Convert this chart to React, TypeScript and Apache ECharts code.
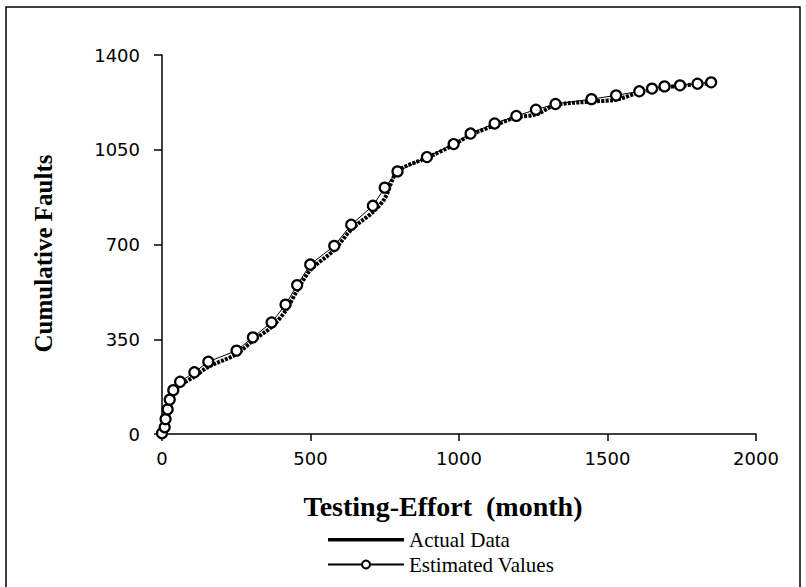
import React, { useEffect, useRef } from "react";
import * as echarts from "echarts";

const effort: number[] = [0, 9, 12, 19, 26, 38, 61, 109, 156, 251, 306, 369, 416, 455, 499, 580, 637, 710, 750, 793, 892, 982, 1039, 1120, 1193, 1259, 1325, 1446, 1529, 1607, 1650, 1692, 1744, 1803, 1849];
const actualFaults: number[] = [0, 15, 40, 80, 115, 150, 180, 212, 248, 295, 345, 395, 455, 530, 605, 680, 755, 820, 870, 970, 1020, 1068, 1105, 1140, 1170, 1180, 1215, 1228, 1235, 1262, 1272, 1280, 1286, 1292, 1296];
const estimatedFaults: number[] = [3, 25, 55, 91, 127, 162, 193, 228, 267, 308, 357, 412, 478, 550, 626, 695, 773, 843, 910, 970, 1023, 1071, 1110, 1147, 1175, 1198, 1219, 1237, 1251, 1266, 1276, 1284, 1288, 1294, 1299];
const xTicks = { min: 0, max: 2000, interval: 500 };
const yTicks = { min: 0, max: 1400, interval: 350 };
const seriesNames = ["Actual Data", "Estimated Values"];

export default function App() {
  const ref = useRef<HTMLDivElement>(null);
  useEffect(() => {
    if (!ref.current) return;
    const chart = echarts.init(ref.current, undefined, { renderer: "svg" });
    const actual = effort.map((x, i) => [x, actualFaults[i]]);
    const est = effort.map((x, i) => [x, estimatedFaults[i]]);
    const axisText = { color: "#000", fontFamily: "DejaVu Sans", fontSize: 18, formatter: (v: number) => String(v) };
    chart.setOption({
      animation: false,
      backgroundColor: "#fff",
      grid: { left: 162, right: 50, top: 55, bottom: 153, containLabel: false },
      xAxis: {
        type: "value",
        ...xTicks,
        name: "Testing-Effort  (month)",
        nameLocation: "middle",
        nameGap: 58,
        nameTextStyle: { color: "#000", fontFamily: "Liberation Serif", fontWeight: "bold", fontSize: 28, padding: [0, 32, 0, 0] },
        axisLine: { show: true, onZero: false, lineStyle: { color: "#000", width: 1.5 } },
        axisTick: { show: true, inside: false, length: 7, lineStyle: { color: "#000", width: 1.5 } },
        axisLabel: { ...axisText, margin: 15 },
        splitLine: { show: false },
      },
      yAxis: {
        type: "value",
        ...yTicks,
        name: "Cumulative Faults",
        nameLocation: "middle",
        nameGap: 106,
        nameRotate: 90,
        nameTextStyle: { color: "#000", fontFamily: "Liberation Serif", fontWeight: "bold", fontSize: 25, padding: [0, 18, 0, 0] },
        axisLine: { show: true, onZero: false, lineStyle: { color: "#000", width: 1.5 } },
        axisTick: { show: true, inside: false, length: 8, lineStyle: { color: "#000", width: 1.5 } },
        axisLabel: { ...axisText, margin: 22 },
        splitLine: { show: false },
      },
      legend: {
        orient: "vertical",
        left: 322,
        top: 524,
        itemWidth: 76,
        itemHeight: 10,
        itemGap: 4,
        data: [
          { name: seriesNames[0], icon: "path://M0,0L76,0L76,0.01ZM0,3.5H76V7H0ZM0,10L76,10L76,10.01Z" },
          { name: seriesNames[1] },
        ],
        textStyle: { color: "#000", fontFamily: "Liberation Serif", fontSize: 21 },
      },
      graphic: [
        {
          type: "rect",
          shape: { x: 6, y: 7, width: 794, height: 600 },
          style: { fill: "none", stroke: "#000", lineWidth: 1.5 },
          silent: true,
        },
      ],
      series: [
        {
          name: seriesNames[0],
          type: "line",
          data: actual,
          symbol: "none",
          smooth: 0.3,
          lineStyle: { color: "#000", width: 4, type: [3, 1.2] },
          itemStyle: { color: "#000" },
          z: 2,
        },
        {
          name: seriesNames[1],
          type: "line",
          data: est,
          symbol: "circle",
          symbolSize: 10,
          smooth: false,
          lineStyle: { color: "#000", width: 1 },
          itemStyle: { color: "#fff", borderColor: "#000", borderWidth: 2.2 },
          z: 3,
        },
      ],
    });
    return () => chart.dispose();
  }, []);
  return <div ref={ref} style={{ position: "fixed", left: 0, top: 0, width: 806, height: 587 }} />;
}
